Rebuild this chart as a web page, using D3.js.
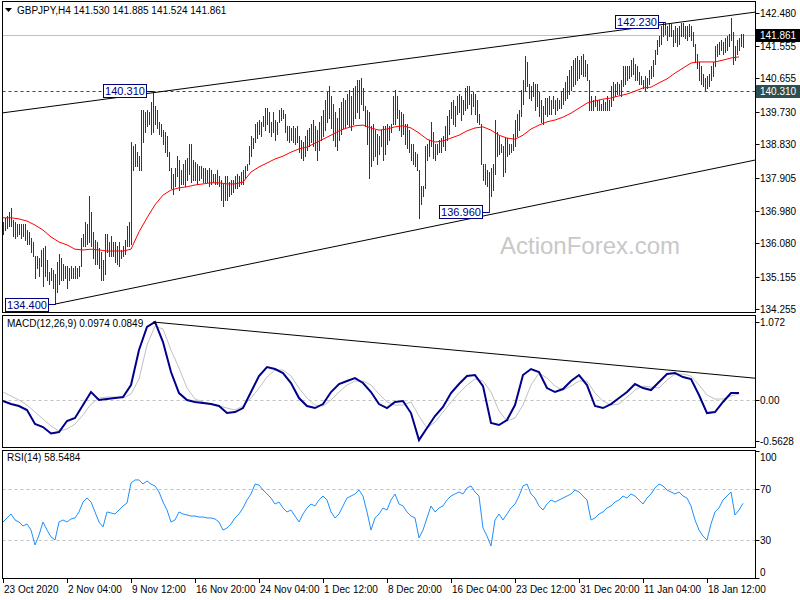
<!DOCTYPE html>
<html><head><meta charset="utf-8">
<script src="https://cdn.jsdelivr.net/npm/d3@7"></script>
<style>body{margin:0;background:#fff}svg{display:block}text{font-family:"Liberation Sans",Arial,sans-serif}</style>
</head><body><svg id="c" width="800" height="600"></svg>
<script>
// ---------------- DATA ----------------
const symbolTitle = "GBPJPY,H4  141.530 141.885 141.524 141.861";
const macdTitle = "MACD(12,26,9) 0.0974 0.0849";
const rsiTitle = "RSI(14) 58.5484";
const watermark = "ActionForex.com";
// H4 bar highs / lows, one per bar from 23 Oct 2020
const highs = [
136.67,136.79,136.84,136.95,137.06,136.73,136.67,136.62,136.62,136.62,
136.62,136.62,136.45,136.40,136.23,136.12,135.73,135.73,135.68,135.90,
135.95,136.01,135.62,135.29,135.40,135.34,135.23,135.57,135.79,135.68,
135.51,135.45,135.45,135.40,135.45,135.40,135.45,135.40,135.45,136.23,
136.34,136.67,136.62,137.40,136.95,136.40,136.18,136.12,135.95,135.84,
135.62,136.34,136.34,136.12,136.29,136.12,136.12,136.01,136.12,135.90,
136.01,136.18,136.56,136.67,138.89,138.78,138.84,138.61,138.50,139.78,
139.78,139.72,139.78,139.72,140.00,140.31,139.89,139.78,139.45,139.39,
139.22,139.17,139.06,138.61,138.17,138.01,138.17,138.50,138.39,138.12,
138.28,138.39,138.45,138.84,138.84,138.39,138.34,138.28,138.23,138.23,
138.17,138.17,138.12,138.17,138.12,138.01,138.01,138.12,137.95,137.84,
137.73,137.95,137.95,137.78,137.84,137.84,137.95,138.01,137.95,138.06,
138.12,138.23,138.28,138.78,139.06,139.00,139.39,139.45,139.50,139.45,
139.61,139.83,139.83,139.72,139.45,139.72,139.50,139.45,139.78,139.83,
139.78,139.67,139.34,139.34,139.28,139.34,139.28,139.34,139.06,138.95,
138.89,139.06,139.22,139.28,139.39,139.50,139.34,139.22,139.45,139.61,
139.78,140.06,140.28,140.44,140.17,139.94,139.72,139.56,139.83,140.00,
140.11,140.06,140.22,140.33,140.17,140.39,140.44,140.61,140.61,140.66,
140.39,139.89,139.78,139.72,139.34,139.39,139.22,139.11,139.06,139.22,
139.34,139.34,139.39,139.34,139.39,140.17,140.33,140.17,139.78,139.72,
139.67,139.39,139.39,139.22,138.84,138.84,138.61,138.56,138.12,137.67,
137.67,138.78,138.84,138.95,139.45,139.17,138.84,138.84,138.95,139.00,
139.06,139.34,139.61,139.78,140.00,140.06,139.89,140.17,140.22,140.17,
140.06,140.39,140.44,140.44,140.22,140.28,140.22,140.06,139.67,139.39,
138.28,138.28,138.12,138.06,138.17,138.28,139.50,139.17,139.06,138.84,
138.78,139.00,139.00,138.84,138.84,139.11,139.50,139.67,139.78,140.33,
140.61,141.28,141.11,140.50,140.44,140.55,140.50,140.50,140.28,140.06,
139.89,140.11,140.11,140.17,140.06,140.17,140.06,140.11,140.06,140.28,
140.39,140.55,140.72,140.89,141.00,141.16,141.22,141.28,141.16,141.28,
141.33,141.16,141.05,140.61,140.17,140.06,140.17,140.06,140.06,139.94,
140.06,140.00,140.17,140.06,140.44,140.55,140.50,140.55,140.50,140.61,
141.00,141.00,141.00,141.00,141.16,141.22,141.05,141.00,140.83,140.72,
140.61,140.72,140.66,140.89,141.00,141.16,141.44,141.72,141.83,142.11,
142.22,142.23,142.11,142.20,142.16,141.99,142.11,142.05,142.11,142.20,
142.18,142.11,142.11,142.16,142.11,141.94,141.61,141.33,141.11,141.00,
140.78,140.66,140.72,140.78,141.00,141.11,141.55,141.61,141.66,141.72,
141.66,141.77,141.83,141.88,142.33,141.94,141.55,141.72,141.77,141.88,
141.885];
const lows = [
136.34,136.45,136.51,136.56,136.56,136.29,136.23,136.29,136.34,136.23,
136.29,136.18,136.06,136.06,135.84,135.73,135.12,135.40,135.18,135.45,
134.90,135.18,135.07,134.96,135.07,134.85,134.40,134.73,134.96,135.07,
135.07,135.12,134.85,135.07,135.12,135.12,135.12,135.12,135.18,135.45,
136.01,136.01,136.06,136.12,136.01,135.68,135.51,135.51,135.40,135.07,
135.07,135.23,135.84,135.73,135.73,135.73,135.57,135.51,135.45,135.68,
135.73,135.79,136.01,136.01,136.06,138.12,138.23,138.23,138.12,138.12,
138.89,139.17,139.34,139.39,139.11,139.17,139.39,139.28,139.11,139.06,
138.84,138.61,138.50,138.12,137.62,137.45,137.67,137.95,137.56,137.73,
137.73,137.67,137.84,138.01,137.78,137.84,137.84,137.73,137.84,137.89,
137.78,137.78,137.78,137.67,137.73,137.78,137.73,137.73,137.67,137.28,
137.12,137.28,137.28,137.40,137.45,137.51,137.62,137.62,137.67,137.73,
137.73,137.89,138.12,138.28,138.50,138.73,138.89,139.00,139.11,139.06,
139.34,139.22,139.39,139.17,139.06,139.17,138.95,139.11,139.45,139.50,
139.56,139.17,138.95,138.89,138.95,138.89,138.84,138.89,138.61,138.45,
138.39,138.50,138.67,138.78,138.89,138.78,138.67,138.39,138.67,138.95,
139.06,139.22,139.45,139.56,139.28,138.95,138.78,138.67,138.95,139.11,
139.28,139.28,139.39,139.34,139.22,139.39,139.56,139.72,139.56,139.94,
139.78,139.34,138.84,137.89,138.23,138.39,138.50,138.28,138.56,138.78,
138.39,138.56,138.84,138.95,139.17,139.39,139.39,139.56,139.22,139.06,
139.11,138.84,138.73,138.61,138.39,138.28,138.23,138.12,136.79,137.17,
137.40,137.62,138.39,138.50,138.78,138.45,138.39,138.56,138.61,138.61,
138.78,138.67,138.95,139.11,139.56,139.39,139.34,139.67,139.72,139.50,
139.67,139.78,139.83,139.94,139.67,139.89,139.67,139.45,139.39,138.28,
137.84,137.73,137.67,136.96,137.40,137.56,138.01,138.50,138.56,138.61,
137.95,138.06,138.50,138.56,138.61,138.67,138.78,139.06,139.22,139.61,
139.94,140.33,140.44,140.11,140.06,140.17,139.78,139.89,139.61,139.45,
139.39,139.67,139.61,139.67,139.67,139.83,139.67,139.78,139.83,139.83,
139.94,140.06,140.11,140.22,140.33,140.44,140.50,140.61,140.66,140.78,
140.72,140.72,140.61,139.78,139.78,139.78,139.89,139.78,139.78,139.78,
139.78,139.78,139.78,139.78,139.89,140.06,140.17,140.22,140.22,140.17,
140.44,140.50,140.61,140.66,140.72,140.78,140.61,140.61,140.50,140.50,
140.39,140.33,140.39,140.50,140.66,140.72,141.05,141.33,141.55,141.61,
141.83,141.88,141.72,141.83,141.83,141.55,141.66,141.55,141.61,141.83,
141.83,141.77,141.72,141.83,141.72,141.55,141.11,140.94,140.61,140.50,
140.44,140.33,140.39,140.44,140.61,140.72,141.00,141.28,141.33,141.44,
141.33,141.39,141.44,141.55,141.72,141.05,141.16,141.33,141.44,141.55,
141.524];
// moving average, one value every 4 bars
const maStep = 4;
const maVals = [136.79,136.79,136.76,136.70,136.59,136.45,136.26,136.12,136.04,135.92,
135.90,135.92,135.90,135.87,135.87,135.87,135.92,136.40,136.79,137.15,
137.42,137.56,137.62,137.65,137.70,137.73,137.76,137.76,137.73,137.73,
137.78,138.06,138.20,138.31,138.42,138.50,138.61,138.70,138.75,138.86,
138.97,139.08,139.20,139.28,139.34,139.36,139.28,139.22,139.25,139.31,
139.34,139.28,139.14,138.97,138.89,138.92,139.00,139.08,139.20,139.28,
139.31,139.22,139.08,139.00,138.97,139.08,139.25,139.36,139.45,139.50,
139.58,139.69,139.83,139.97,140.03,140.08,140.11,140.17,140.22,140.30,
140.39,140.41,140.53,140.64,140.80,140.94,141.08,141.11,141.11,141.11,
141.16,141.22,141.25];
// MACD main and signal, one value every 4 bars
const oscStep = 4;
const macdVals = [-0.014,-0.055,-0.082,-0.137,-0.330,-0.371,-0.460,-0.440,-0.288,-0.247,
-0.069,0.110,0.000,0.014,0.027,0.041,0.206,0.687,1.003,1.072,
0.797,0.385,0.096,0.000,-0.027,-0.041,-0.055,-0.082,-0.179,-0.165,
-0.110,0.110,0.330,0.453,0.426,0.371,0.234,0.027,-0.082,-0.110,
-0.055,0.110,0.220,0.261,0.302,0.234,0.110,-0.055,-0.110,-0.027,
-0.014,-0.179,-0.550,-0.385,-0.220,-0.096,0.096,0.220,0.330,0.343,
0.192,-0.316,-0.343,-0.275,-0.069,0.343,0.426,0.385,0.165,0.110,
0.151,0.261,0.343,0.206,-0.082,-0.110,-0.055,0.027,0.110,0.220,
0.165,0.137,0.247,0.357,0.371,0.316,0.288,0.069,-0.179,-0.165,
-0.027,0.096,0.097];
const signalVals = [0.110,0.055,0.000,-0.069,-0.165,-0.261,-0.357,-0.426,-0.398,-0.330,
-0.206,-0.055,0.027,0.041,0.041,0.027,0.082,0.288,0.755,1.016,
0.975,0.687,0.440,0.165,0.014,-0.027,-0.055,-0.082,-0.110,-0.137,
-0.082,0.027,0.165,0.316,0.412,0.412,0.330,0.165,0.027,-0.069,
-0.082,0.000,0.110,0.206,0.261,0.261,0.206,0.082,-0.027,-0.069,
-0.069,-0.027,-0.220,-0.385,-0.302,-0.165,-0.027,0.096,0.206,0.288,
0.261,0.110,-0.151,-0.288,-0.247,-0.069,0.206,0.371,0.302,0.192,
0.137,0.192,0.261,0.261,0.096,-0.014,-0.069,-0.055,0.041,0.137,
0.192,0.179,0.165,0.275,0.357,0.357,0.330,0.206,0.069,0.014,
0.014,0.055,0.085];
// RSI(14), one value every 2 bars
const rsiStep = 2;
const rsiVals = [43.9,47.1,50.2,45.5,43.9,40.8,42.4,37.6,25.9,33.7,
43.9,37.6,32.2,29.8,43.9,45.5,43.9,46.3,47.1,51.8,
59.6,62.7,59.6,51.8,43.9,40.0,51.8,51.0,50.2,53.3,
56.5,58.8,74.5,76.9,76.9,73.7,76.1,73.7,72.2,67.5,
59.6,53.3,43.9,45.5,51.8,50.2,49.4,48.6,48.6,47.8,
47.8,47.1,47.1,46.3,43.9,37.6,39.2,42.4,47.1,50.2,
54.9,61.2,65.9,73.7,72.9,69.0,65.9,62.7,58.0,59.6,
54.9,51.8,53.3,48.6,43.9,50.2,54.9,58.0,56.5,61.2,
64.3,61.2,51.8,47.1,50.2,56.5,62.7,64.3,65.9,69.0,
64.3,51.8,37.6,47.1,50.2,54.9,53.3,61.2,65.9,58.0,
56.5,51.8,48.6,47.1,31.4,37.6,47.1,56.5,51.8,54.9,
56.5,61.2,64.3,65.9,67.5,65.9,70.6,72.2,67.5,64.3,
39.2,32.9,25.1,45.5,50.2,45.5,50.2,54.9,58.0,64.3,
72.2,73.7,65.9,62.7,56.5,53.3,58.0,61.2,59.6,61.2,
62.7,64.3,65.9,69.0,67.5,64.3,61.2,45.5,47.1,50.2,
51.8,54.9,56.5,59.6,61.2,64.3,62.7,65.9,64.3,61.2,
58.0,62.7,65.9,70.6,73.7,72.2,69.0,67.5,65.9,67.5,
64.3,62.7,56.5,45.5,37.6,32.9,29.8,42.4,51.8,54.9,
61.2,64.3,67.5,49.4,53.3,58.55];
const priceTicks = [142.480,141.555,140.655,139.730,138.830,137.905,136.980,136.080,135.155,134.255];
const macdTicks = [1.072,0.00,-0.5628];
const rsiTicks = [100,70,30,0];
const rsiLevels = [70,30];
const timeLabels = ["23 Oct 2020","2 Nov 04:00","9 Nov 12:00","16 Nov 20:00","24 Nov 04:00","1 Dec 12:00","8 Dec 20:00","16 Dec 04:00","23 Dec 12:00","31 Dec 20:00","11 Jan 04:00","18 Jan 12:00"];
const barsPerLabel = 32;
const levelPrice = 140.310, lastPrice = 141.861;
const markers = [{label:"140.310",bar:75,price:140.310},{label:"142.230",bar:331,price:142.230},{label:"136.960",bar:243,price:136.960},{label:"134.400",bar:26,price:134.400}];
const upperTrend = [[0,139.70],[376,142.49]];
const lowerTrend = [[26,134.40],[376,138.39]];
const macdTrend = [[75,1.072],[376,0.30]];

// ---------------- LAYOUT ----------------
const svg = d3.select("#c");
const L = 2.5, R = 755.5;
const x = d3.scaleLinear().domain([0, 376]).range([3, 755]);
const yP = d3.scaleLinear().domain([134.255, 142.480]).range([309.3, 12.5]);
const yM = d3.scaleLinear().domain([-0.5628, 1.072]).range([441, 322]);
const yR = d3.scaleLinear().domain([0, 100]).range([578, 450.5]);
const FS = 10;

const panels = [[1.5,312.5],[315.5,447.5],[450.5,578.5]];
svg.append("rect").attr("width",800).attr("height",600).attr("fill","#fff");
function clip(id, y0, y1){
  svg.append("clipPath").attr("id",id).append("rect").attr("x",L).attr("y",y0).attr("width",R-L).attr("height",y1-y0);
}
clip("cp",panels[0][0],panels[0][1]); clip("cm",panels[1][0],panels[1][1]); clip("cr",panels[2][0],panels[2][1]);
const px = v => Math.round(v)+0.5;

// ---- price panel ----
const gP = svg.append("g").attr("clip-path","url(#cp)");
gP.append("text").attr("x",500).attr("y",254).attr("font-size",24).attr("fill","#c8c8c8").text(watermark);
gP.append("line").attr("x1",L).attr("x2",R).attr("y1",px(yP(lastPrice))).attr("y2",px(yP(lastPrice))).attr("stroke","#c0c0c0");
gP.append("line").attr("x1",L).attr("x2",R).attr("y1",px(yP(levelPrice))).attr("y2",px(yP(levelPrice))).attr("stroke","#2f4f4f").attr("stroke-dasharray","3,3");
gP.selectAll("line.bar").data(highs).join("line").attr("class","bar")
  .attr("x1",(d,i)=>px(x(i))).attr("x2",(d,i)=>px(x(i)))
  .attr("y1",d=>Math.round(yP(d))).attr("y2",(d,i)=>Math.round(yP(lows[i]))+1).attr("stroke","#1a3d5e").attr("stroke-width",1);
gP.append("path").datum(maVals).attr("fill","none").attr("stroke","#ff0000").attr("stroke-width",1)
  .attr("d",d3.line().x((d,i)=>x(i*maStep)).y(d=>yP(d)));
const tl = d3.line().x(d=>x(d[0])).y(d=>yP(d[1]));
gP.append("path").datum(upperTrend).attr("d",tl).attr("stroke","#000").attr("fill","none");
gP.append("path").datum(lowerTrend).attr("d",tl).attr("stroke","#000").attr("fill","none");
markers.forEach(m=>{
  const g = svg.append("g");
  const w = 43, h = 13;
  const bx = Math.round(x(m.bar) - w - 7), by = Math.round(yP(m.price) - h/2);
  g.append("rect").attr("x",bx+0.5).attr("y",by+0.5).attr("width",w).attr("height",h).attr("fill","#fff").attr("stroke","#000080");
  g.append("text").attr("x",bx+w/2+0.5).attr("y",by+h-2).attr("text-anchor","middle").attr("font-size",11).attr("fill","#000080").text(m.label);
  g.append("line").attr("x1",bx+w).attr("x2",x(m.bar)).attr("y1",px(yP(m.price))).attr("y2",px(yP(m.price))).attr("stroke","#000080");
});

// ---- MACD panel ----
const gM = svg.append("g").attr("clip-path","url(#cm)");
gM.append("line").attr("x1",L).attr("x2",R).attr("y1",px(yM(0))).attr("y2",px(yM(0))).attr("stroke","#c0c0c0").attr("stroke-dasharray","3,3");
gM.append("path").datum(signalVals).attr("fill","none").attr("stroke","#c0c0c0").attr("stroke-width",1)
  .attr("d",d3.line().x((d,i)=>x(i*oscStep)).y(d=>yM(d)));
gM.append("path").datum(macdVals).attr("fill","none").attr("stroke","#00008b").attr("stroke-width",2)
  .attr("d",d3.line().x((d,i)=>x(i*oscStep)).y(d=>yM(d)));
gM.append("path").datum(macdTrend).attr("d",d3.line().x(d=>x(d[0])).y(d=>yM(d[1]))).attr("stroke","#000").attr("fill","none");

// ---- RSI panel ----
const gR = svg.append("g").attr("clip-path","url(#cr)");
rsiLevels.forEach(v=>gR.append("line").attr("x1",L).attr("x2",R).attr("y1",px(yR(v))).attr("y2",px(yR(v))).attr("stroke","#c0c0c0").attr("stroke-dasharray","3,3"));
gR.append("path").datum(rsiVals).attr("fill","none").attr("stroke","#1e90ff").attr("stroke-width",1)
  .attr("d",d3.line().x((d,i)=>x(i*rsiStep)).y(d=>yR(d)));

// ---- frames ----
panels.forEach(p=>svg.append("rect").attr("x",L).attr("y",p[0]).attr("width",R-L).attr("height",p[1]-p[0]).attr("fill","none").attr("stroke","#000"));

// ---- titles ----
svg.append("path").attr("d","M5,8 L12,8 L8.5,12 Z").attr("fill","#000");
svg.append("text").attr("x",17).attr("y",14).attr("font-size",FS).attr("fill","#000").text(symbolTitle);
svg.append("text").attr("x",7).attr("y",327).attr("font-size",FS).attr("fill","#000").text(macdTitle);
svg.append("text").attr("x",7).attr("y",461).attr("font-size",FS).attr("fill","#000").text(rsiTitle);

// ---- right axes ----
function rightAxis(scale, ticks, fmt, y0, y1){
  ticks.forEach(t=>{
    const yy = Math.round(scale(t));
    svg.append("line").attr("x1",R).attr("x2",R+4).attr("y1",yy+0.5).attr("y2",yy+0.5).attr("stroke","#000");
    const ty = Math.min(Math.max(yy, y0+6), y1-6);
    svg.append("text").attr("x",760).attr("y",ty+4).attr("font-size",FS).attr("fill","#000").text(fmt(t));
  });
}
rightAxis(yP, priceTicks, d=>d.toFixed(3), 1, 315);
rightAxis(yM, macdTicks, d=>d===0?"0.00":String(d), 316, 447);
rightAxis(yR, rsiTicks, d=>String(d), 451, 578);
function priceBox(p, bg){
  const yy = Math.round(yP(p));
  svg.append("rect").attr("x",R+0.5).attr("y",yy-6).attr("width",44).attr("height",13).attr("fill",bg);
  svg.append("text").attr("x",760).attr("y",yy+4).attr("font-size",FS).attr("fill","#fff").text(p.toFixed(3));
}
priceBox(levelPrice,"#2f4f4f");
priceBox(lastPrice,"#000");

// ---- time axis ----
timeLabels.forEach((lab,k)=>{
  const xx = Math.round(x(k*barsPerLabel));
  svg.append("line").attr("x1",xx+0.5).attr("x2",xx+0.5).attr("y1",578.5).attr("y2",583).attr("stroke","#000");
  svg.append("text").attr("x",xx+1).attr("y",593).attr("font-size",FS).attr("fill","#000").text(lab);
});
</script></body></html>
